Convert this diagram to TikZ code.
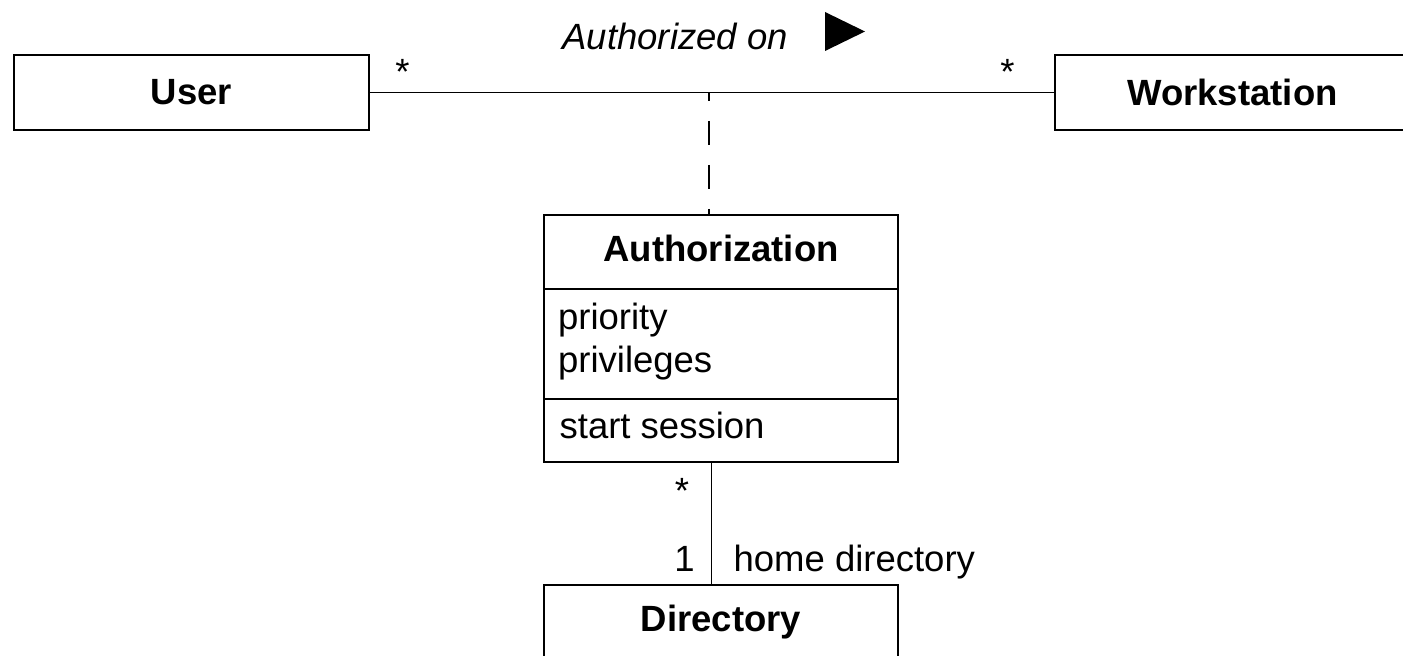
\documentclass[tikz,border=0pt]{standalone}
\usepackage{fontspec}
\setmainfont{Liberation Sans}
\usetikzlibrary{positioning}

\begin{document}
\fontsize{18.25}{21.5}\selectfont
\begin{tikzpicture}[x=0.5pt, y=-0.5pt, line width=0.6pt,
                    classbox/.style={draw, outer sep=0pt, inner sep=0pt, minimum width=177.5pt, minimum height=37.5pt, font=\bfseries},
                    partbox/.style={classbox, minimum width=177pt},
                    txt/.style={inner sep=0pt, anchor=base},
                    txtw/.style={inner sep=0pt, anchor=base west},
                    dashline/.style={dash pattern=on 12pt off 10pt, dash phase=7.75pt},
                    ]
                    \useasboundingbox (0,0) rectangle (1403,656);
                    \clip (0,0) rectangle (1403,656);

                    \node [classbox](1) at (191.5,92.5) {User};
                    \node [classbox](2) [right=343pt of 1] {Workstation};

                    \node [partbox, minimum height=37pt, text depth=4pt](3) at (721,252) {Authorization};
                    \node [partbox, minimum height=55pt](4) [below=0pt of 3] {};
                    \node [partbox, minimum height=31.5pt](5) [below=0pt of 4] {};
                    \node [partbox](6) [below=61.5pt of 5] {Directory};

                    \node [txtw, font=\itshape](9) at (562,50) {Authorized on};
                    \node [txt](10) at (402.5,84.5) {*};
                    \node [txt](11) at (1007.5,84.5) {*};
                    \node [txt](12) at (682,503.5) {*};
                    \node [txt](13) at (684.5,572) {1};
                    \node [txtw](14) at (733,572) {home directory};

                    \node [txtw](15) at (557.5,330) {priority};
                    \node [txtw](16) at (557.5,373) {privileges};
                    \node [txtw](17) at (559,439) {start session};

                    \coordinate (7) at (709,92.5);
                    \coordinate (8) at (711.5,462);

                    \draw (1) -- (2);
                    \draw [dashline] (7) -- (7 |- 3.north);
                    \draw (8) -- (8 |- 6.north);
                    \fill (825,12) -- (825,51) -- (865,31.5) -- cycle;

                \end{tikzpicture}
\end{document}
